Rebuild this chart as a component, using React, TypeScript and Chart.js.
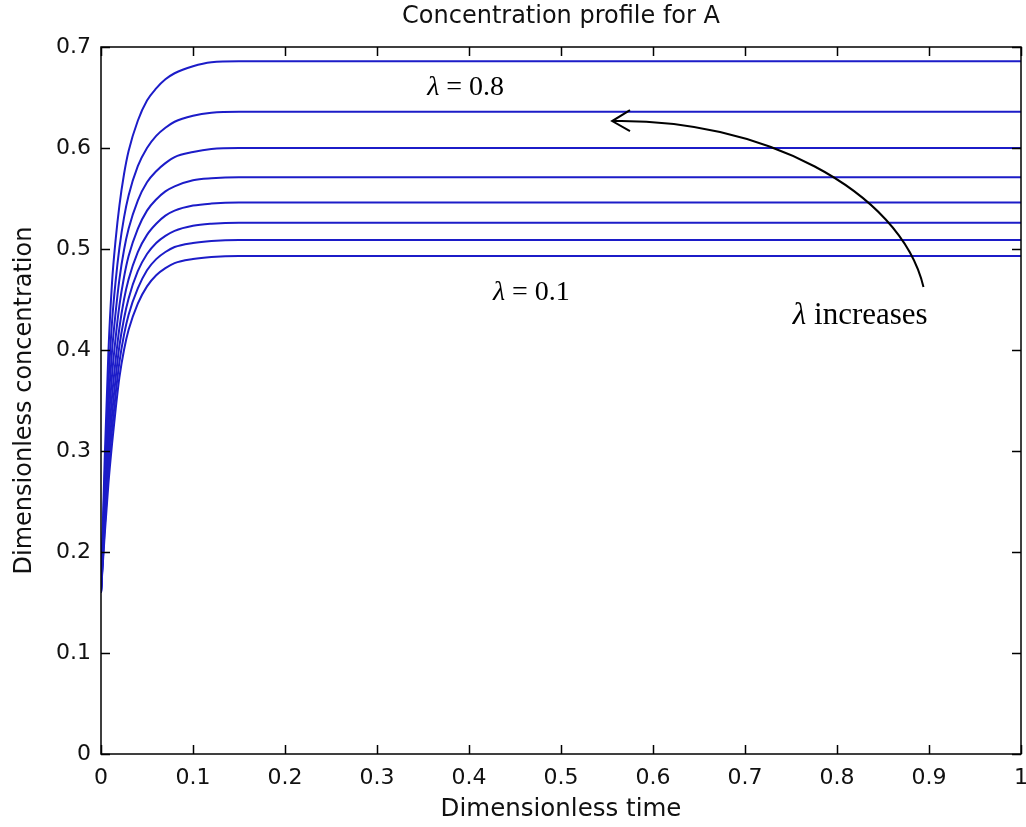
import React, { useEffect, useRef } from 'react';
import { Chart, registerables } from 'chart.js';

Chart.register(...registerables);

// Dimensionless time samples
const TIME = [0, 0.004, 0.008, 0.012, 0.016, 0.02, 0.025, 0.03, 0.04, 0.05, 0.06, 0.07, 0.08, 0.1, 0.12, 0.15, 0.2, 1];

// Dimensionless concentration, one curve per lambda (lowest to highest)
const CURVE_1 = [0.16, 0.217, 0.267, 0.307, 0.342, 0.373, 0.400, 0.420, 0.446, 0.463, 0.474, 0.481, 0.486, 0.490, 0.492, 0.493, 0.493, 0.493];
const CURVE_2 = [0.16, 0.224, 0.279, 0.321, 0.357, 0.388, 0.415, 0.435, 0.461, 0.479, 0.490, 0.497, 0.502, 0.506, 0.508, 0.509, 0.509, 0.509];
const CURVE_3 = [0.16, 0.231, 0.291, 0.336, 0.373, 0.404, 0.431, 0.451, 0.478, 0.495, 0.506, 0.513, 0.518, 0.523, 0.525, 0.526, 0.526, 0.526];
const CURVE_4 = [0.16, 0.239, 0.305, 0.354, 0.391, 0.422, 0.450, 0.470, 0.497, 0.514, 0.525, 0.533, 0.538, 0.543, 0.545, 0.546, 0.546, 0.546];
const CURVE_5 = [0.16, 0.249, 0.322, 0.375, 0.413, 0.444, 0.472, 0.493, 0.520, 0.538, 0.549, 0.557, 0.562, 0.568, 0.570, 0.571, 0.571, 0.571];
const CURVE_6 = [0.16, 0.260, 0.342, 0.399, 0.438, 0.470, 0.499, 0.520, 0.548, 0.566, 0.577, 0.585, 0.591, 0.596, 0.599, 0.600, 0.600, 0.600];
const CURVE_7 = [0.16, 0.274, 0.365, 0.428, 0.469, 0.501, 0.531, 0.553, 0.582, 0.600, 0.612, 0.620, 0.626, 0.632, 0.635, 0.636, 0.636, 0.636];
const CURVE_8 = [0.16, 0.292, 0.397, 0.467, 0.510, 0.543, 0.574, 0.597, 0.627, 0.647, 0.659, 0.668, 0.674, 0.681, 0.685, 0.686, 0.686, 0.686];

const CURVES = [CURVE_1, CURVE_2, CURVE_3, CURVE_4, CURVE_5, CURVE_6, CURVE_7, CURVE_8];

const X_TICKS = [0, 0.1, 0.2, 0.3, 0.4, 0.5, 0.6, 0.7, 0.8, 0.9, 1];
const Y_TICKS = [0, 0.1, 0.2, 0.3, 0.4, 0.5, 0.6, 0.7];

const TITLE = 'Concentration profile for A';
const X_TITLE = 'Dimensionless time';
const Y_TITLE = 'Dimensionless concentration';

const SANS = '"DejaVu Sans", "Liberation Sans", sans-serif';
const SERIF = '"Liberation Serif", "DejaVu Serif", serif';

const fmt = (v: number) => String(Number(Number(v).toFixed(1)));

function drawLambdaText(ctx: CanvasRenderingContext2D, x: number, y: number, rest: string, size: number) {
  ctx.font = `italic ${size}px ${SERIF}`;
  ctx.fillText('\u03bb', x, y);
  const w = ctx.measureText('\u03bb').width;
  ctx.font = `${size}px ${SERIF}`;
  ctx.fillText(rest, x + w, y);
}

const framePlugin = {
  id: 'frame',
  afterDatasetsDraw(chart: any) {
    const { ctx, chartArea: a, scales } = chart;
    const xs = scales.x;
    const ys = scales.y;
    ctx.save();

    // title centred over the plot area
    ctx.fillStyle = '#111';
    ctx.font = `24px ${SANS}`;
    ctx.textAlign = 'center';
    ctx.textBaseline = 'middle';
    ctx.fillText(TITLE, (a.left + a.right) / 2, 17);

    ctx.strokeStyle = '#000';
    ctx.lineWidth = 1.5;
    ctx.strokeRect(a.left, a.top, a.right - a.left, a.bottom - a.top);
    ctx.beginPath();
    const tl = 9;
    X_TICKS.forEach((v) => {
      const px = Math.round(xs.getPixelForValue(v)) + 0.5;
      ctx.moveTo(px, a.bottom);
      ctx.lineTo(px, a.bottom - tl);
      ctx.moveTo(px, a.top);
      ctx.lineTo(px, a.top + tl);
    });
    Y_TICKS.forEach((v) => {
      const py = Math.round(ys.getPixelForValue(v)) + 0.5;
      ctx.moveTo(a.left, py);
      ctx.lineTo(a.left + tl, py);
      ctx.moveTo(a.right, py);
      ctx.lineTo(a.right - tl, py);
    });
    ctx.stroke();

    // annotations (in data coordinates)
    ctx.fillStyle = '#000';
    ctx.textBaseline = 'middle';
    ctx.textAlign = 'left';
    drawLambdaText(ctx, xs.getPixelForValue(0.3545), ys.getPixelForValue(0.66), ' = 0.8', 28);
    drawLambdaText(ctx, xs.getPixelForValue(0.426), ys.getPixelForValue(0.457), ' = 0.1', 28);
    drawLambdaText(ctx, xs.getPixelForValue(0.752), ys.getPixelForValue(0.434), ' increases', 31);

    // curved arrow
    const p = (x: number, y: number) => [xs.getPixelForValue(x), ys.getPixelForValue(y)];
    const [x0, y0] = p(0.894, 0.4624);
    const [x1, y1] = p(0.869, 0.5584);
    const [x2, y2] = p(0.7166, 0.6297);
    const [x3, y3] = p(0.5556, 0.6267);
    const [ax1, ay1] = p(0.575, 0.6376);
    const [ax2, ay2] = p(0.575, 0.6168);
    ctx.lineWidth = 2;
    ctx.beginPath();
    ctx.moveTo(x0, y0);
    ctx.bezierCurveTo(x1, y1, x2, y2, x3, y3);
    ctx.stroke();
    ctx.beginPath();
    ctx.moveTo(ax1, ay1);
    ctx.lineTo(x3, y3);
    ctx.lineTo(ax2, ay2);
    ctx.stroke();
    ctx.restore();
  },
};

export default function App() {
  const ref = useRef<HTMLCanvasElement | null>(null);

  useEffect(() => {
    if (!ref.current) return;
    const datasets = CURVES.map((c, i) => ({
      label: `curve ${i + 1}`,
      data: TIME.map((t, j) => ({ x: t, y: c[j] })),
      borderColor: '#1c1cc8',
      borderWidth: 2,
      pointRadius: 0,
      cubicInterpolationMode: 'monotone' as const,
      fill: false,
    }));
    const chart = new Chart(ref.current, {
      type: 'line',
      data: { datasets },
      options: {
        animation: false,
        responsive: false,
        maintainAspectRatio: false,
        layout: { padding: { left: 0, right: 5, top: 47, bottom: 0 } },
        plugins: {
          legend: { display: false },
          tooltip: { enabled: false },
          title: { display: false },
        },
        scales: {
          x: {
            type: 'linear',
            min: 0,
            max: 1,
            grid: { display: false, drawTicks: false },
            border: { display: false },
            afterBuildTicks: (s: any) => {
              s.ticks = X_TICKS.map((v) => ({ value: v }));
            },
            afterFit: (s: any) => {
              s.height = 73;
              s.paddingLeft = 0;
              s.paddingRight = 0;
            },
            ticks: {
              color: '#111',
              padding: 11,
              maxRotation: 0,
              autoSkip: false,
              font: { family: SANS, size: 22 },
              callback: (v: any) => fmt(v),
            },
            title: {
              display: true,
              text: X_TITLE,
              color: '#111',
              font: { family: SANS, size: 24.5, lineHeight: 1.2 },
              padding: { top: 0, bottom: 3 },
            },
          },
          y: {
            type: 'linear',
            min: 0,
            max: 0.7,
            grid: { display: false, drawTicks: false },
            border: { display: false },
            afterBuildTicks: (s: any) => {
              s.ticks = Y_TICKS.map((v) => ({ value: v }));
            },
            afterFit: (s: any) => {
              s.width = 101;
              s.paddingTop = 0;
              s.paddingBottom = 0;
            },
            ticks: {
              color: '#111',
              padding: 10,
              autoSkip: false,
              font: { family: SANS, size: 22 },
              callback: (v: any) => fmt(v),
            },
            title: {
              display: true,
              text: Y_TITLE,
              color: '#111',
              font: { family: SANS, size: 24, lineHeight: 1.2 },
              padding: { top: 10, bottom: 0 },
            },
          },
        },
      },
      plugins: [framePlugin],
    });
    return () => chart.destroy();
  }, []);

  return (
    <div style={{ position: 'absolute', left: 0, top: 0, width: 1026, height: 827, background: '#fff' }}>
      <canvas ref={ref} width={1026} height={827} style={{ width: 1026, height: 827 }} />
    </div>
  );
}
